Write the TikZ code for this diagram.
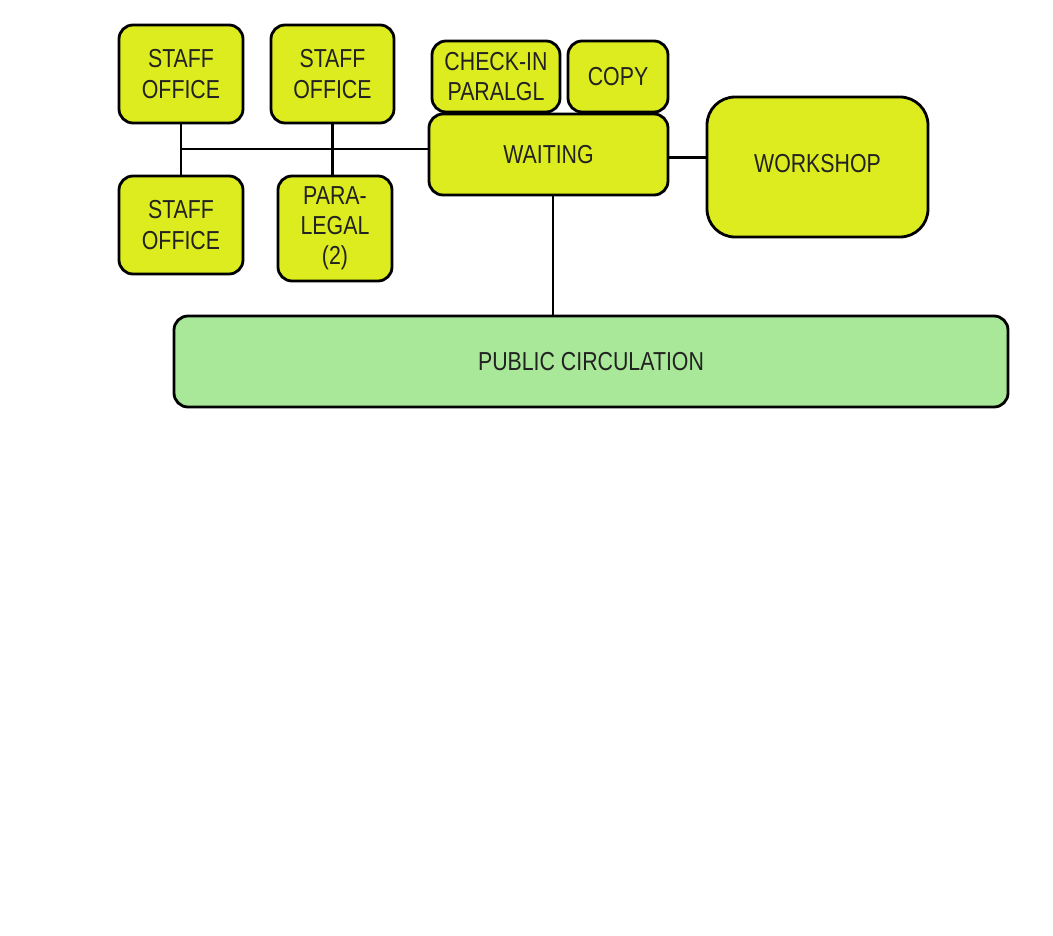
\documentclass[tikz,border=0pt]{standalone}
\usepackage{fontspec}
\setmainfont{Liberation Sans}[FakeStretch=0.82]
\usepackage{tikz}
\usetikzlibrary{positioning,calc}
\definecolor{roomyellow}{RGB}{221,236,30}
\definecolor{circgreen}{RGB}{168,232,152}
\definecolor{labelgray}{RGB}{34,34,34}

\begin{document}
\begin{tikzpicture}[
  every node/.style={font=\fontsize{18.5}{21.5}\selectfont, text=labelgray},
  room/.style={rectangle, draw=black, fill=roomyellow, line width=2pt,
               rounded corners=0.35cm, align=center, inner sep=2pt},
  bigroom/.style={room, rounded corners=0.7cm},
  circ/.style={room, fill=circgreen},
  link/.style={line width=1.7pt, black},
]
\useasboundingbox (0,0) rectangle (26.325,-23.375);

%% ── Staff side ─────────────────────────────────────────────────────────
\node[room, minimum width=3.1cm,   minimum height=2.45cm]  (so1)  at (4.525,-1.85)    {STAFF\\OFFICE};
\node[room, minimum width=3.075cm, minimum height=2.45cm]  (so2)  at (8.3125,-1.85)   {STAFF\\OFFICE};
\node[room, minimum width=3.1cm,   minimum height=2.45cm]  (so3)  at (4.525,-5.625)   {STAFF\\OFFICE};
\node[room, minimum width=2.85cm,  minimum height=2.625cm] (para) at (8.375,-5.7125)  {PARA-\\LEGAL\\(2)};

%% ── Front rooms ────────────────────────────────────────────────────────
\node[room, minimum width=3.2cm,   minimum height=1.775cm] (chk)  at (12.4,-1.9125)   {CHECK-IN\\PARALGL};
\node[room, minimum width=2.5cm,   minimum height=1.775cm] (copy) at (15.45,-1.9125)  {COPY};
\node[room, minimum width=5.975cm, minimum height=2.025cm] (wait) at (13.7125,-3.8625) {WAITING};
\node[bigroom, minimum width=5.525cm, minimum height=3.5cm, text depth=0.2cm] (work) at (20.4375,-4.175) {WORKSHOP};

%% ── Circulation ────────────────────────────────────────────────────────
\node[circ, minimum width=20.85cm, minimum height=2.275cm] (pub) at (14.775,-9.0375) {PUBLIC CIRCULATION};

%% ── Links ──────────────────────────────────────────────────────────────
\coordinate (bus) at (4.525,-3.725);
\draw[link] (so1.south) -- (so3.north);
\draw[link] (bus) -- (bus -| wait.west);
\draw[link] (so2.south) -- (so2.south |- para.north);
\draw[link] ([yshift=-2pt]wait.east) -- ([yshift=-2pt]wait.east -| work.west);
\draw[link] ([xshift=3pt]wait.south) -- ([xshift=3pt]wait.south |- pub.north);

\end{tikzpicture}
\end{document}
